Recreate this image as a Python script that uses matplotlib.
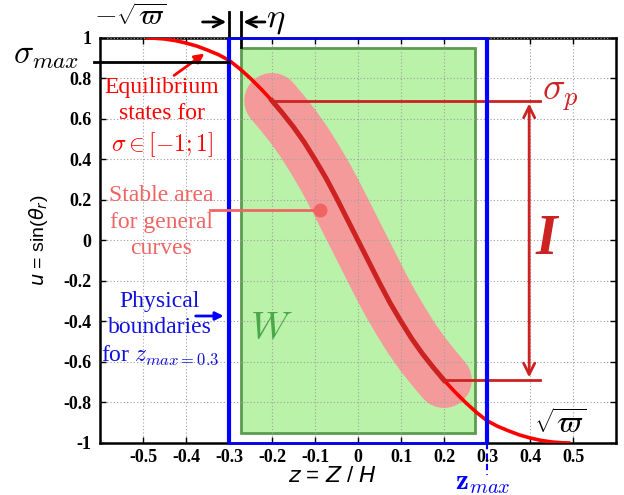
import matplotlib
matplotlib.use("Agg")
import matplotlib.pyplot as plt
from matplotlib.patches import Rectangle

# equilibrium curve u(z)
curve_z = [-0.49, -0.475, -0.45, -0.425, -0.40, -0.375, -0.35, -0.325, -0.30, -0.275,
           -0.25, -0.225, -0.20, -0.175, -0.15, -0.125, -0.10, -0.075, -0.05, -0.025,
           0.0, 0.025, 0.05, 0.075, 0.10, 0.125, 0.15, 0.175, 0.20, 0.225,
           0.25, 0.275, 0.30, 0.325, 0.35, 0.375, 0.40, 0.425, 0.45, 0.475, 0.49]
curve_u = [1.0, 0.999, 0.995, 0.987, 0.975, 0.96, 0.94, 0.918, 0.89, 0.848,
           0.80, 0.747, 0.69, 0.627, 0.56, 0.485, 0.40, 0.31, 0.21, 0.105,
           0.0, -0.105, -0.21, -0.31, -0.40, -0.485, -0.56, -0.627, -0.69, -0.747,
           -0.80, -0.848, -0.89, -0.918, -0.94, -0.96, -0.975, -0.987, -0.995, -0.999, -1.0]

# general curve (dark red) inside the stable area
general_z = [-0.20, -0.175, -0.15, -0.125, -0.10, -0.075, -0.05, -0.025,
             0.0, 0.025, 0.05, 0.075, 0.10, 0.125, 0.15, 0.175, 0.20]
general_u = [0.69, 0.627, 0.56, 0.485, 0.40, 0.31, 0.21, 0.105,
             0.0, -0.105, -0.21, -0.31, -0.40, -0.485, -0.56, -0.627, -0.69]

xticks = [-0.5, -0.4, -0.3, -0.2, -0.1, 0.0, 0.1, 0.2, 0.3, 0.4, 0.5]
xtick_labels = ["-0.5", "-0.4", "-0.3", "-0.2", "-0.1", "0", "0.1", "0.2", "0.3", "0.4", "0.5"]
yticks = [-1.0, -0.8, -0.6, -0.4, -0.2, 0.0, 0.2, 0.4, 0.6, 0.8, 1.0]
ytick_labels = ["-1", "-0.8", "-0.6", "-0.4", "-0.2", "0", "0.2", "0.4", "0.6", "0.8", "1"]

z_max = 0.3
w_box = (-0.273, -0.95, 0.273, 0.95)  # z0, u0, z1, u1
sigma_max = 0.88
sigma_p = 0.69

RED = "#ff0000"
DARK = "#cc2222"
PINK = "#f59a9a"
SALMON = "#f06464"
BLUE = "#0000ff"

plt.rcParams["mathtext.fontset"] = "cm"
plt.rcParams["font.family"] = "Liberation Serif"

fig = plt.figure(figsize=(6.24, 4.95), dpi=100)
ax = fig.add_axes([0.1603, 0.1051, 0.8269, 0.8182])
ax.set_xlim(-0.6, 0.6)
ax.set_ylim(-1, 1)

ax.set_xticks(xticks)
ax.set_xticklabels(xtick_labels, fontweight="bold", fontsize=13)
ax.set_yticks(yticks)
ax.set_yticklabels(ytick_labels, fontweight="bold", fontsize=13)
ax.tick_params(direction="in", length=4, width=1, top=True, right=True)
ax.tick_params(axis="x", pad=4)
ax.tick_params(axis="y", pad=6)
for s in ax.spines.values():
    s.set_linewidth(1.8)

ax.grid(True, linestyle=(0, (1, 2)), color="#a0a0a0", linewidth=0.8)
ax.set_axisbelow(False)

# W region
ax.add_patch(Rectangle((w_box[0], w_box[1]), w_box[2] - w_box[0], w_box[3] - w_box[1],
                       facecolor="#b9f2a8", edgecolor="#5c9c50", lw=2, zorder=1))
# stable band
ax.plot(general_z, general_u, color=PINK, lw=40, solid_capstyle="round",
        solid_joinstyle="round", zorder=2)
# equilibrium curve
ax.plot(curve_z, curve_u, color=RED, lw=2.6, zorder=4, solid_joinstyle="round")
ax.plot(general_z, general_u, color=DARK, lw=3.6, zorder=5, solid_joinstyle="round")

# physical boundaries
for zb in (-z_max, z_max):
    ax.axvline(zb, color=BLUE, lw=3, zorder=6)
ax.plot([-z_max, z_max], [1, 1], color=BLUE, lw=1.8, zorder=7, clip_on=False)
ax.plot([-z_max, z_max], [-1, -1], color=BLUE, lw=1.8, zorder=7, clip_on=False)
ax.plot([z_max, z_max], [-1, -1.16], color=BLUE, lw=1.5, ls=(0, (3, 2)), clip_on=False)

# sigma_max line
ax.plot([-0.615, -z_max], [sigma_max, sigma_max], color="black", lw=2, clip_on=False, zorder=6)
ax.text(-0.725, 0.91, r"$\sigma_{max}$", fontsize=24, ha="center", va="center")
ax.text(-0.53, 1.10, r"$-\sqrt{\varpi}$", fontsize=21, ha="center", va="center")
ax.text(0.47, -0.912, r"$\sqrt{\varpi}$", fontsize=22, ha="center", va="center")

# eta
for zv in (-z_max, w_box[0]):
    ax.plot([zv, zv], [0.955, 1.128], color="black", lw=2, clip_on=False)
ax.annotate("", xy=(-z_max, 1.079), xytext=(-0.368, 1.079), annotation_clip=False,
            arrowprops=dict(arrowstyle="->", lw=2, color="black", mutation_scale=18))
ax.annotate("", xy=(w_box[0], 1.079), xytext=(-0.21, 1.079), annotation_clip=False,
            arrowprops=dict(arrowstyle="->", lw=2, color="black", mutation_scale=18))
ax.text(-0.214, 1.09, r"$\eta$", fontsize=25, ha="left", va="center")

# sigma_p and interval I
ax.plot([general_z[0], 0.424], [sigma_p, sigma_p], color=DARK, lw=2, zorder=5)
ax.plot([general_z[-1], 0.424], [-sigma_p, -sigma_p], color=DARK, lw=2, zorder=5)
ax.annotate("", xy=(0.398, sigma_p), xytext=(0.398, -sigma_p),
            arrowprops=dict(arrowstyle="<->", lw=2, color=DARK, mutation_scale=20))
ax.text(0.428, 0.715, r"$\sigma_p$", fontsize=27, color=DARK, ha="left", va="center")
ax.text(0.4375, 0.0, "I", fontsize=40, color=DARK, fontweight="bold", fontstyle="italic",
        ha="center", va="center")

# labels on the left
ax.text(-0.456, 0.605, "Equilibrium\nstates for\n" + r"$\sigma\in[-1;1]$", color=RED,
        fontsize=17, ha="center", va="center", linespacing=1.3, zorder=8)
ax.annotate("", xy=(-0.352, 0.931), xytext=(-0.433, 0.807),
            arrowprops=dict(arrowstyle="-|>", lw=2, color=RED, mutation_scale=14))

ax.text(-0.458, 0.091, "Stable area\nfor general\ncurves", color=SALMON,
        fontsize=17, ha="center", va="center", linespacing=1.35, zorder=8)
ax.plot([-0.345, -0.088], [0.151, 0.151], color=SALMON, lw=2, zorder=8)
ax.plot([-0.088], [0.151], "o", color=SALMON, ms=9, zorder=8)

ax.text(-0.461, -0.437, "Physical\nboundaries\nfor " + r"$z_{max=0.3}$", color="#1010dd",
        fontsize=17, ha="center", va="center", linespacing=1.3, zorder=8)
ax.annotate("", xy=(-0.306, -0.373), xytext=(-0.384, -0.373),
            arrowprops=dict(arrowstyle="-|>", lw=2, color=BLUE, mutation_scale=12))

ax.text(-0.201, -0.442, r"$W$", fontsize=28, color="#4aa84a", ha="center", va="center", zorder=8)

ax.text(0.29, -1.20, r"$\mathbf{z}_{max}$", fontsize=21, color=BLUE, ha="center", va="center")

ax.set_xlabel(r"$z$ = $Z$ / $H$", fontsize=16, family="Liberation Sans",
              math_fontfamily="dejavusans")
ax.xaxis.set_label_coords(0.45, -0.058)
ax.set_ylabel(r"$u$ = sin($\theta_r$)", fontsize=14, family="Liberation Sans",
              math_fontfamily="dejavusans", labelpad=10)

fig.savefig("out.png", dpi=100)
